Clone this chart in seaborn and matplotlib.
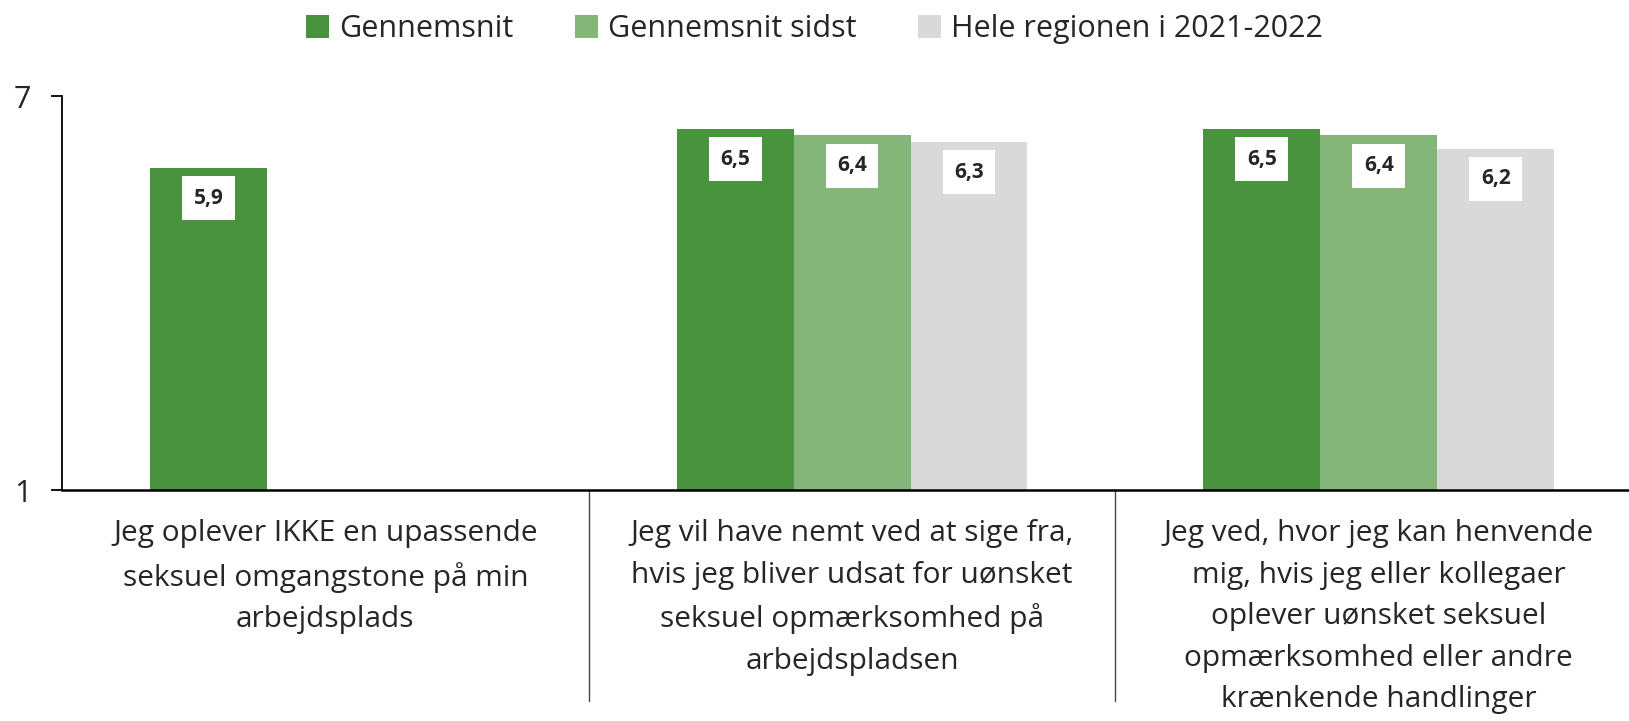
import pandas as pd
import numpy as np
import matplotlib
matplotlib.use("Agg")
import matplotlib.pyplot as plt
import seaborn as sns

# data
categories = [
    "Jeg oplever IKKE en upassende\nseksuel omgangstone på min\narbejdsplads",
    "Jeg vil have nemt ved at sige fra,\nhvis jeg bliver udsat for uønsket\nseksuel opmærksomhed på\narbejdspladsen",
    "Jeg ved, hvor jeg kan henvende\nmig, hvis jeg eller kollegaer\noplever uønsket seksuel\nopmærksomhed eller andre\nkrænkende handlinger",
]
series = ["Gennemsnit", "Gennemsnit sidst", "Hele regionen i 2021-2022"]
gennemsnit = [5.9, 6.5, 6.5]
gennemsnit_sidst = [np.nan, 6.4, 6.4]
hele_regionen = [np.nan, 6.3, 6.2]
colors = ["#4A933E", "#84B579", "#D9D9D9"]

df = pd.DataFrame({
    "kategori": categories * 3,
    "serie": [series[0]] * 3 + [series[1]] * 3 + [series[2]] * 3,
    "vaerdi": gennemsnit + gennemsnit_sidst + hele_regionen,
})

sns.set_style("white")
plt.rcParams["font.family"] = ["Open Sans", "DejaVu Sans"]

fig = plt.figure(figsize=(16.29, 7.21), dpi=100)
ax = fig.add_axes([62 / 1629, 1 - 490 / 721, 1567 / 1629, 394 / 721])

sns.barplot(
    data=df, x="kategori", y="vaerdi", hue="serie",
    order=categories, hue_order=series, palette=colors,
    width=0.666, saturation=1, linewidth=0, ax=ax, legend=True,
)

ax.set_ylim(1, 7)
ax.set_xlim(-0.5, 2.475)
ax.set_yticks([1, 7])
ax.set_yticklabels(["1", "7"], fontsize=22)
ax.tick_params(axis="y", length=8, width=1.3, pad=14, left=True, color="black")
ax.tick_params(axis="x", length=0, pad=21, labelsize=21.5)
ax.set_xlabel("")
ax.set_ylabel("")
for lab in ax.get_xticklabels():
    lab.set_linespacing(1.57)

for s in ["top", "right"]:
    ax.spines[s].set_visible(False)
ax.spines["left"].set_color("black")
ax.spines["left"].set_linewidth(1.3)
ax.spines["bottom"].set_color("black")
ax.spines["bottom"].set_linewidth(1.8)

# separators between the categories below the axis
for xs in [0.5, 1.5]:
    ax.axvline(xs, ymin=-0.535, ymax=0, color="#444444", lw=1, clip_on=False)

# value labels in white boxes
for cont in ax.containers:
    for bar in cont:
        h = bar.get_height()
        if np.isnan(h):
            continue
        ax.text(
            bar.get_x() + bar.get_width() / 2, h - 0.46,
            f"{h:.1f}".replace(".", ","),
            ha="center", va="center", fontsize=15, fontweight="bold",
            bbox=dict(boxstyle="square,pad=0.55", fc="white", ec="none"),
        )

ax.legend(
    loc="center", bbox_to_anchor=(0.5, 1 - 29 / 721), bbox_transform=fig.transFigure,
    ncol=3, frameon=False, fontsize=22, handlelength=0.75, handleheight=0.8,
    handletextpad=0.35, columnspacing=2.0,
)

fig.savefig("out.png", dpi=100)
